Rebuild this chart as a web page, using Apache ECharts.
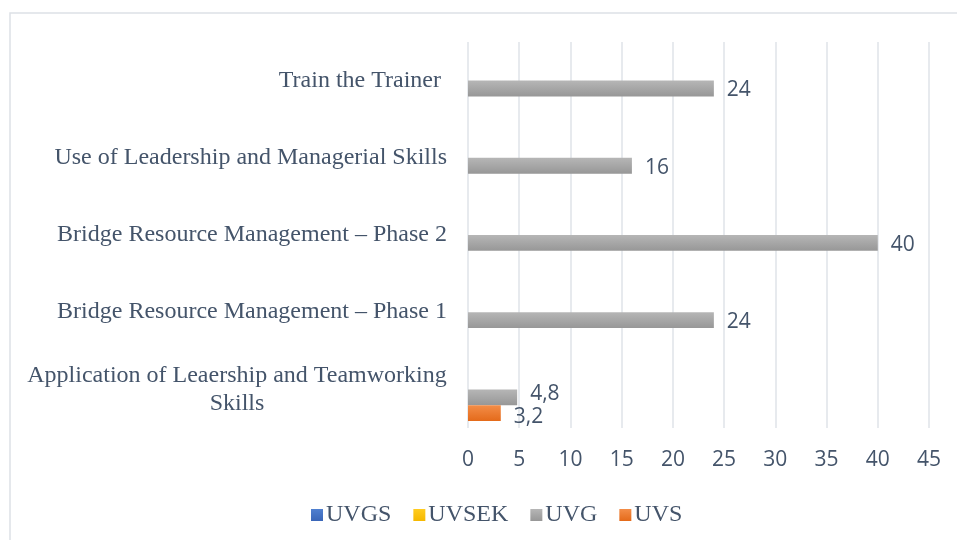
<!DOCTYPE html>
<html>
<head>
<meta charset="utf-8">
<style>
  html, body { margin: 0; padding: 0; background: #ffffff; }
  #chart { width: 957px; height: 540px; }
</style>
<script src="https://cdn.jsdelivr.net/npm/echarts@6/dist/echarts.min.js"></script>
</head>
<body>
<div id="chart"></div>
<script>
// Training programmes, listed from the bottom of the axis to the top
const categories = [
  'Application of Leaership and Teamworking\nSkills',
  'Bridge Resource Management \u2013 Phase 1',
  'Bridge Resource Management \u2013 Phase 2',
  'Use of Leadership and Managerial Skills',
  'Train the Trainer '
];

// Share of participants (%) per institution
const seriesNames = ['UVGS', 'UVSEK', 'UVG', 'UVS'];
const uvgs  = [null, null, null, null, null];
const uvsek = [null, null, null, null, null];
const uvg   = [4.8, 24, 40, 16, 24];
const uvs   = [3.2, null, null, null, null];

const xTicks = { min: 0, max: 45, interval: 5 };

const textColor = '#44546A';
const serif = '"Liberation Serif", "Times New Roman", serif';
const sans = '"Open Sans", "Liberation Sans", sans-serif';

function grad(top, bottom) {
  return new echarts.graphic.LinearGradient(0, 0, 0, 1, [
    { offset: 0, color: top },
    { offset: 1, color: bottom }
  ]);
}

const palette = {
  UVGS: grad('#5080d0', '#3a66b8'),
  UVSEK: grad('#ffcc20', '#f5b800'),
  UVG: grad('#b6b6b6', '#979797'),
  UVS: grad('#f38d48', '#e46a1a')
};

// small label nudges where two value labels sit close together
const labelNudge = { UVG: { 0: [0, -3] }, UVS: { 0: [0, 4] } };

function fmt(v) {
  return String(v).replace('.', ',');
}

function buildSeries(name, values) {
  return {
    name: name,
    type: 'bar',
    barGap: '0%',
    barCategoryGap: '18%',
    itemStyle: { color: palette[name] },
    label: {
      show: true,
      position: 'right',
      distance: 13,
      offset: [0, 2],
      color: textColor,
      fontFamily: sans,
      fontSize: 21,
      formatter: p => (p.value == null ? '' : fmt(p.value))
    },
    data: values.map((v, i) => {
      const nudge = labelNudge[name] && labelNudge[name][i];
      return nudge ? { value: v, label: { offset: nudge } } : v;
    })
  };
}

const chart = echarts.init(document.getElementById('chart'), null, { renderer: 'canvas' });

chart.setOption({
  backgroundColor: '#ffffff',
  animation: false,
  graphic: [{
    type: 'rect',
    z: -10,
    shape: { x: 10, y: 13, width: 1000, height: 600 },
    style: { fill: null, stroke: '#dde1e6', lineWidth: 1.5 }
  }],
  legend: {
    data: seriesNames,
    left: 306,
    top: 498,
    itemWidth: 12,
    itemHeight: 12,
    itemGap: 22,
    icon: 'rect',
    textStyle: { color: textColor, fontFamily: serif, fontSize: 24, padding: [0, 0, 0, -2] }
  },
  grid: { left: 468, right: 28, top: 42, bottom: 112, containLabel: false },
  xAxis: {
    type: 'value',
    min: xTicks.min,
    max: xTicks.max,
    interval: xTicks.interval,
    axisLine: { show: false },
    axisTick: { show: false },
    splitLine: { show: true, lineStyle: { color: '#dfe3e8', width: 1.5 } },
    axisLabel: { color: textColor, fontFamily: sans, fontSize: 21, margin: 22 }
  },
  yAxis: {
    type: 'category',
    data: categories,
    axisLine: { show: false },
    axisTick: { show: false },
    axisLabel: {
      margin: 21,
      color: textColor,
      fontFamily: serif,
      fontSize: 24,
      lineHeight: 28,
      formatter: function (v) {
        if (v.indexOf('\n') >= 0) {
          return v.split('\n').map(s => '{m|' + s + '}').join('\n');
        }
        return v;
      },
      rich: {
        m: {
          color: textColor,
          fontFamily: serif,
          fontSize: 24,
          lineHeight: 28,
          width: 420,
          align: 'center'
        }
      }
    }
  },
  series: [
    buildSeries('UVGS', uvgs),
    buildSeries('UVSEK', uvsek),
    buildSeries('UVG', uvg),
    buildSeries('UVS', uvs)
  ]
});
</script>
</body>
</html>
